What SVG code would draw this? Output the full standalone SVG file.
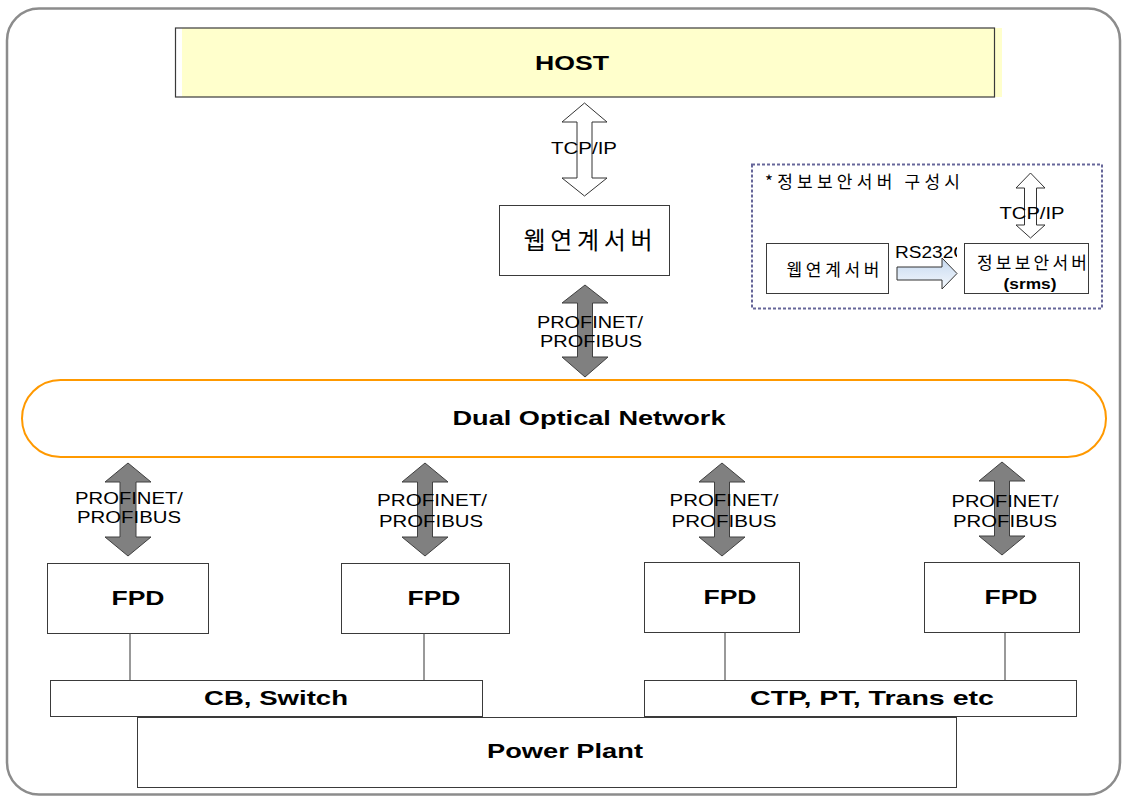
<svg xmlns="http://www.w3.org/2000/svg" width="1123" height="798" viewBox="0 0 1123 798">
<style>
.box{fill:#ffffff;stroke:#3a3a3a;stroke-width:1}
.lbl{font-family:"Liberation Sans","Noto Sans CJK KR",sans-serif;font-size:16px;fill:#000;text-anchor:middle}
.bold{font-family:"Liberation Sans","Noto Sans CJK KR",sans-serif;font-size:21px;font-weight:bold;fill:#000;text-anchor:middle}
.kr{font-family:"Noto Sans CJK KR","Liberation Sans",sans-serif;fill:#000;text-anchor:middle}
.hollow{fill:#ffffff;stroke:#333;stroke-width:1}
.solid{fill:#808080;stroke:#404040;stroke-width:1}
.wire{stroke:#555;stroke-width:1.2;fill:none}
</style>
<defs>
<linearGradient id="rsg" x1="0" y1="0" x2="0" y2="1">
<stop offset="0" stop-color="#c6d9f0"/>
<stop offset="1" stop-color="#f4f8fc"/>
</linearGradient>
<clipPath id="rsclip"><rect x="880" y="240" width="77" height="30"/></clipPath>
</defs>
<rect x="7" y="8.5" width="1113" height="786" rx="32" ry="32" fill="#ffffff" stroke="#8c8c8c" stroke-width="2.5"/>

<g id="host">
<rect x="182" y="28" width="820" height="69" fill="#ffffcc"/>
<rect x="175.5" y="28" width="819" height="69" fill="none" stroke="#3a3a3a" stroke-width="1.2"/>
<text class="bold" x="572" y="70" textLength="74" lengthAdjust="spacingAndGlyphs">HOST</text>
</g>

<g id="webserver">
<rect class="box" x="499.5" y="205.5" width="170" height="70"/>
<text class="kr" x="588" y="249" font-size="24" textLength="129" lengthAdjust="spacing">웹연계서버</text>
</g>

<g id="network">
<rect x="22" y="380" width="1084" height="77" rx="38.5" ry="38.5" fill="#ffffff" stroke="#ff9900" stroke-width="2"/>
<text class="bold" x="589" y="425" textLength="273" lengthAdjust="spacingAndGlyphs">Dual Optical Network</text>
</g>

<g id="fpd1">
<rect class="box" x="47.5" y="563.5" width="161" height="70"/>
<text class="bold" x="138" y="605" textLength="53" lengthAdjust="spacingAndGlyphs">FPD</text>
</g>
<g id="fpd2">
<rect class="box" x="341.5" y="563.5" width="168" height="70"/>
<text class="bold" x="434" y="605" textLength="53" lengthAdjust="spacingAndGlyphs">FPD</text>
</g>
<g id="fpd3">
<rect class="box" x="644.5" y="562.5" width="155" height="70"/>
<text class="bold" x="730" y="604" textLength="53" lengthAdjust="spacingAndGlyphs">FPD</text>
</g>
<g id="fpd4">
<rect class="box" x="924.5" y="562.5" width="155" height="70"/>
<text class="bold" x="1011" y="604" textLength="53" lengthAdjust="spacingAndGlyphs">FPD</text>
</g>

<g id="connectors">
<polygon class="hollow" points="584.5,103 607,122 592,122 592,178 607,178 584.5,196 562,178 577,178 577,122 562,122"/>
<polygon class="solid" points="585,285 608,303 592.5,303 592.5,357 608,357 585,377 562,357 577.5,357 577.5,303 562,303"/>
<polygon class="solid" points="128,463 151,482 136,482 136,537 151,537 128,556 105,537 120,537 120,482 105,482"/>
<polygon class="solid" points="425,463 448,482 432.5,482 432.5,537 448,537 425,556 402,537 417.5,537 417.5,482 402,482"/>
<polygon class="solid" points="722,463 745,482 729.5,482 729.5,537 745,537 722,556 699,537 714.5,537 714.5,482 699,482"/>
<polygon class="solid" points="1002,462 1025,481 1009.5,481 1009.5,536 1025,536 1002,555 979,536 994.5,536 994.5,481 979,481"/>
<line class="wire" x1="130" y1="633.5" x2="130" y2="680"/>
<line class="wire" x1="424" y1="633.5" x2="424" y2="680"/>
<line class="wire" x1="725" y1="632.5" x2="725" y2="680"/>
<line class="wire" x1="1005" y1="632.5" x2="1005" y2="680"/>
<polygon class="hollow" points="1030.5,173 1045,188 1036.5,188 1036.5,225 1045,225 1030.5,238 1016,225 1024.5,225 1024.5,188 1016,188"/>
<polygon fill="url(#rsg)" stroke="#333" stroke-width="1" points="897,267 942,267 942,258 957,273.5 942,289 942,280 897,280"/>
<text class="lbl" x="584" y="154" textLength="66" lengthAdjust="spacingAndGlyphs">TCP/IP</text>
<text class="lbl" x="590" y="328" textLength="106" lengthAdjust="spacingAndGlyphs">PROFINET/</text>
<text class="lbl" x="591" y="347" textLength="102" lengthAdjust="spacingAndGlyphs">PROFIBUS</text>
<text class="lbl" x="129" y="504" textLength="108" lengthAdjust="spacingAndGlyphs">PROFINET/</text>
<text class="lbl" x="129" y="523" textLength="104" lengthAdjust="spacingAndGlyphs">PROFIBUS</text>
<text class="lbl" x="432" y="506" textLength="110" lengthAdjust="spacingAndGlyphs">PROFINET/</text>
<text class="lbl" x="431" y="527" textLength="104" lengthAdjust="spacingAndGlyphs">PROFIBUS</text>
<text class="lbl" x="724" y="506" textLength="109" lengthAdjust="spacingAndGlyphs">PROFINET/</text>
<text class="lbl" x="724" y="527" textLength="105" lengthAdjust="spacingAndGlyphs">PROFIBUS</text>
<text class="lbl" x="1005" y="507" textLength="107" lengthAdjust="spacingAndGlyphs">PROFINET/</text>
<text class="lbl" x="1005" y="527" textLength="104" lengthAdjust="spacingAndGlyphs">PROFIBUS</text>
<text class="lbl" x="1032" y="219" textLength="65" lengthAdjust="spacingAndGlyphs">TCP/IP</text>
<text class="lbl" x="895" y="258" style="text-anchor:start" clip-path="url(#rsclip)" textLength="72" lengthAdjust="spacingAndGlyphs">RS232C</text>
</g>

<g id="cb-switch">
<rect class="box" x="50.5" y="680.5" width="432" height="36"/>
<text class="bold" x="276" y="705" textLength="144" lengthAdjust="spacingAndGlyphs">CB, Switch</text>
</g>
<g id="ctp">
<rect class="box" x="644.5" y="680.5" width="432" height="36"/>
<text class="bold" x="872" y="705" textLength="244" lengthAdjust="spacingAndGlyphs">CTP, PT, Trans etc</text>
</g>
<g id="power-plant">
<rect class="box" x="137.5" y="717.5" width="819" height="70"/>
<text class="bold" x="565" y="758" textLength="156" lengthAdjust="spacingAndGlyphs">Power Plant</text>
</g>

<g id="inset">
<rect x="752" y="164.5" width="350" height="144" fill="none" stroke="#666699" stroke-width="2" stroke-dasharray="3,2"/>
<text class="kr" x="765" y="188" font-size="17" style="text-anchor:start" textLength="195" lengthAdjust="spacing">*정보보안서버 구성시</text>
</g>
<g id="inset-webserver">
<rect class="box" x="766.5" y="243.5" width="122" height="50"/>
<text class="kr" x="833" y="276" font-size="17" textLength="93" lengthAdjust="spacing">웹연계서버</text>
</g>
<g id="inset-srms">
<rect class="box" x="964.5" y="243.5" width="124" height="50"/>
<text class="kr" x="1032" y="269" font-size="17" textLength="110" lengthAdjust="spacing">정보보안서버</text>
<text class="bold" x="1030" y="289" style="font-size:15px" textLength="53" lengthAdjust="spacingAndGlyphs">(srms)</text>
</g>
</svg>
